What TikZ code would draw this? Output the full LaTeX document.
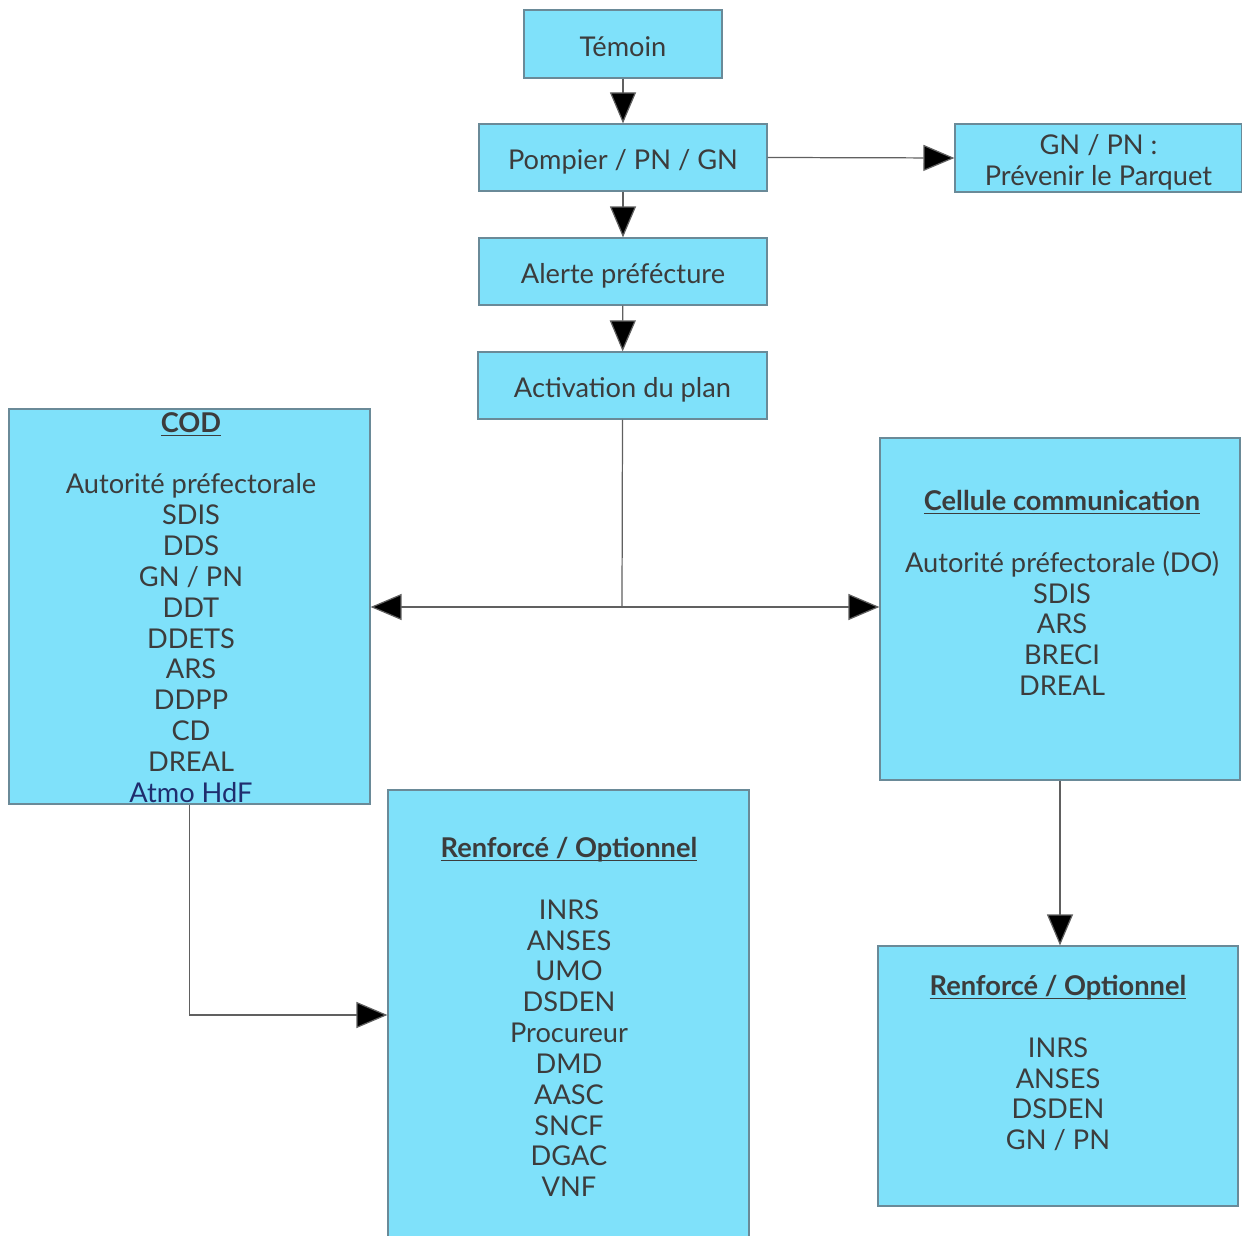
\documentclass[tikz,border=0pt]{standalone}
\usepackage{fontspec}
\setmainfont{Lato}
\usetikzlibrary{arrows.meta}
\definecolor{boxfill}{HTML}{7FE1FA}
\definecolor{boxline}{HTML}{6A8A98}
\definecolor{txt}{HTML}{3C3C3C}
\definecolor{navy}{HTML}{1F2D6E}
\definecolor{conn}{HTML}{606060}
\newsavebox{\ttlbox}
\newcommand{\ttl}[1]{\sbox{\ttlbox}{\textbf{#1}}\rlap{\rule[-2.2pt]{\wd\ttlbox}{0.8pt}}\usebox{\ttlbox}}
\begin{document}
\begin{tikzpicture}[x=0.02cm,y=-0.02cm,
  box/.style={draw=boxline,line width=0.7pt,fill=boxfill,inner sep=0pt,text=txt,font=\fontsize{15.5}{17.5}\selectfont},
  onel/.style={text height=14pt,text depth=0pt},
  listtxt/.style={inner sep=0pt,anchor=north,align=center,text=txt,font=\fontsize{15.5}{17.55}\selectfont},
  arr/.style={draw=conn,line width=0.7pt,-{Triangle[length=0.62cm,width=0.52cm,fill=black]}},
  ln/.style={draw=conn,line width=0.7pt}]
\useasboundingbox (0,0) rectangle (1242,1236);
\fill[white] (0,0) rectangle (1242,1236);

\node[box,onel,minimum width=198*0.02cm,minimum height=68*0.02cm] (temoin) at (623,44) {Témoin};
\node[box,onel,minimum width=288*0.02cm,minimum height=67*0.02cm] (pompier) at (623,157.5) {Pompier / PN / GN};
\node[box,minimum width=287*0.02cm,minimum height=68*0.02cm] (parquet) at (1098.5,158) {};
\node[box,onel,minimum width=288*0.02cm,minimum height=67*0.02cm] (alerte) at (623,271.5) {Alerte préfécture};
\node[box,onel,minimum width=289*0.02cm,minimum height=67*0.02cm] (activation) at (622.5,385.5) {Activation du plan};

\node[box,minimum width=361*0.02cm,minimum height=395*0.02cm] (cod) at (189.5,606.5) {};
\node[box,minimum width=360*0.02cm,minimum height=342*0.02cm] (cellule) at (1060,609) {};
\node[box,minimum width=361*0.02cm,minimum height=450*0.02cm] (renf1) at (568.5,1015) {};
\node[box,minimum width=360*0.02cm,minimum height=260*0.02cm] (renf2) at (1058,1076) {};

\node[listtxt] (parqtxt) at (1098.5,134) {GN / PN :\\Prévenir le Parquet};
\node[listtxt] (codtxt) at (191,412) {\ttl{COD}\\[17.55pt]Autorité préfectorale\\SDIS\\DDS\\GN / PN\\DDT\\DDETS\\ARS\\DDPP\\CD\\DREAL\\\textcolor{navy}{Atmo HdF}};
\node[listtxt] (celtxt) at (1062,490) {\ttl{Cellule communication}\\[17.55pt]Autorité préfectorale (DO)\\SDIS\\ARS\\BRECI\\DREAL};
\node[listtxt] (r1txt) at (569,837) {\ttl{Renforcé / Optionnel}\\[17.55pt]INRS\\ANSES\\UMO\\DSDEN\\Procureur\\DMD\\AASC\\SNCF\\DGAC\\VNF};
\node[listtxt] (r2txt) at (1058,975) {\ttl{Renforcé / Optionnel}\\[17.55pt]INRS\\ANSES\\DSDEN\\GN / PN};

\coordinate (j) at (622,607);
\draw[arr] (temoin) -- (pompier);
\draw[arr] (pompier) -- (alerte);
\draw[arr] (alerte) -- (activation);
\draw[arr] (pompier.east) -- (parquet.west);
\draw[ln] (activation.south) -- (j);
\draw[arr] (j) -- (j -| cod.east);
\draw[arr] (j) -- (j -| cellule.west);
\draw[arr] (cellule.south) -- (cellule.south |- renf2.north);
\draw[arr] (cod.south) |- (renf1.west);
\end{tikzpicture}
\end{document}
